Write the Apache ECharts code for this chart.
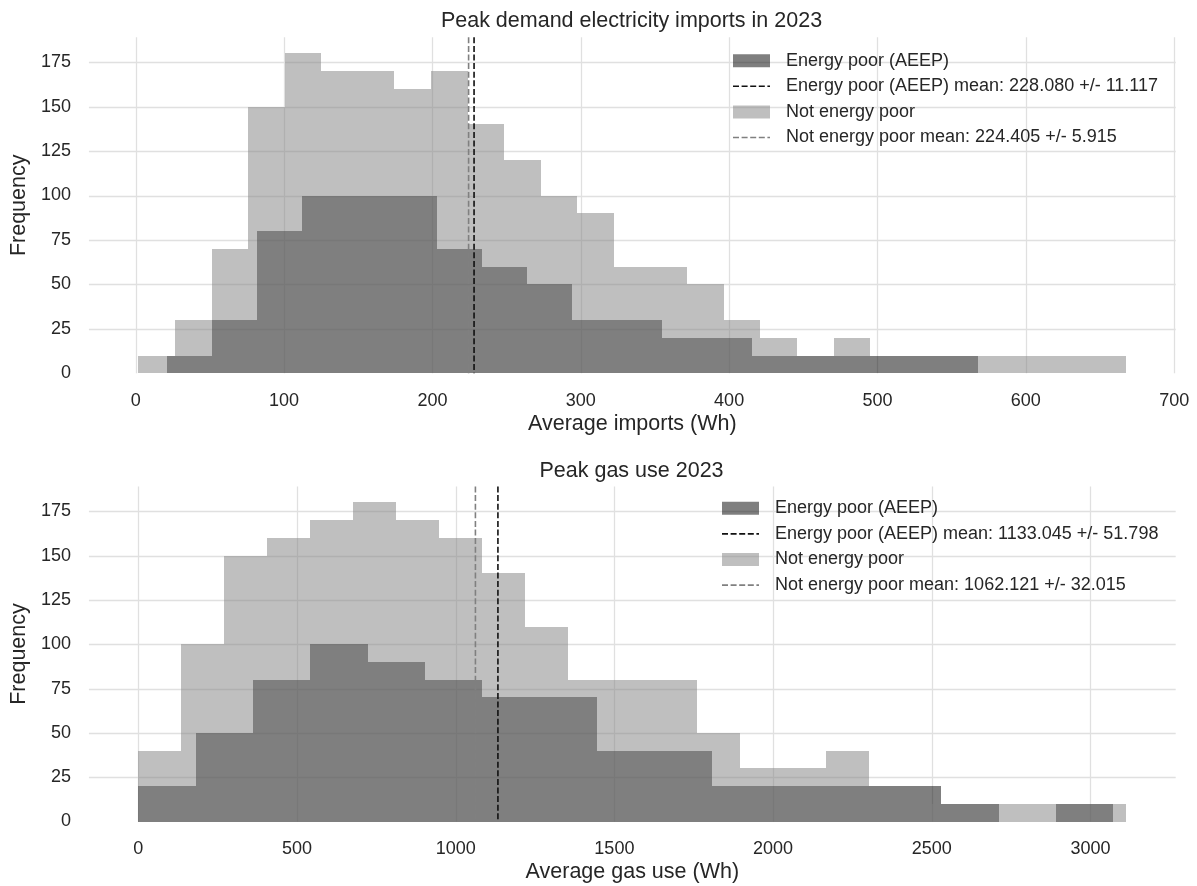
<!DOCTYPE html>
<html>
<head>
<meta charset="utf-8">
<title>Peak demand electricity imports and gas use 2023</title>
<script src="https://cdn.jsdelivr.net/npm/echarts@6/dist/echarts.min.js"></script>
<style>
  html, body { margin: 0; padding: 0; background: #ffffff; }
  #chart { width: 1197px; height: 886px; }
</style>
</head>
<body>
<div id="chart"></div>
<script>
// ---- Electricity imports (Wh): histogram ranges and bin counts ----
const elecPoorRange = [20.9, 567.6];
const elecPoorCounts = [10, 30, 80, 100, 100, 100, 70, 60, 50, 30, 30, 20, 20, 10, 10, 10, 10, 10];
const elecNotPoorRange = [1.8, 667.7];
const elecNotPoorCounts = [10, 30, 70, 150, 180, 170, 170, 160, 170, 140, 120, 100, 90, 60, 60, 50, 30, 20, 0, 20, 0, 10, 10, 10, 10, 10, 10];
const elecPoorMean = 228.080, elecPoorErr = 11.117;
const elecNotPoorMean = 224.405, elecNotPoorErr = 5.915;
const elecXLimits = [-31.5, 701];
const elecXTicks = [0, 100, 200, 300, 400, 500, 600, 700];

// ---- Gas use (Wh): histogram ranges and bin counts ----
const gasPoorRange = [0, 3072];
const gasPoorCounts = [20, 50, 80, 100, 90, 80, 70, 70, 40, 40, 20, 20, 20, 20, 10, 0, 10];
const gasNotPoorRange = [0, 3113];
const gasNotPoorCounts = [40, 100, 150, 160, 170, 180, 170, 160, 140, 110, 80, 80, 80, 50, 30, 30, 40, 10, 10, 10, 10, 10, 10];
const gasPoorMean = 1133.045, gasPoorErr = 51.798;
const gasNotPoorMean = 1062.121, gasNotPoorErr = 32.015;
const gasXLimits = [-155.65, 3268.65];
const gasXTicks = [0, 500, 1000, 1500, 2000, 2500, 3000];

// ---- Shared frequency axis ----
const freqMax = 189;
const freqTicks = [0, 25, 50, 75, 100, 125, 150, 175];

const FONT = "'Liberation Sans', Arial, Helvetica, sans-serif";
const TEXT = '#262626';
const GRID_LINE = '#e0e0e0';
const POOR_FILL = 'rgba(0, 0, 0, 0.5)';
const NOT_POOR_FILL = 'rgba(128, 128, 128, 0.5)';
const POOR_MEAN = '#111111';
const NOT_POOR_MEAN = '#808080';
const DASH = [6, 2.6];

// equal-width bin edges of a histogram over [lo, hi]
function binEdges(lo, hi, n) {
  const w = (hi - lo) / n;
  const e = [];
  for (let i = 0; i <= n; i++) e.push(lo + i * w);
  return e;
}

function histSeries(name, range, counts, fill, idx, z) {
  const edges = binEdges(range[0], range[1], counts.length);
  return {
    type: 'custom', name, xAxisIndex: idx, yAxisIndex: idx, z, silent: true,
    data: counts.map((c, i) => [edges[i], edges[i + 1], c]),
    encode: { x: [0, 1], y: 2 },
    renderItem(params, api) {
      const c = api.value(2);
      if (!c) return { type: 'group', children: [] };
      const a = api.coord([api.value(0), 0]);
      const b = api.coord([api.value(1), c]);
      const x0 = Math.round(a[0]), x1 = Math.round(b[0]);
      const y0 = Math.round(a[1]), y1 = Math.round(b[1]);
      return { type: 'rect', shape: { x: x0, y: y1, width: x1 - x0, height: y0 - y1 }, style: { fill } };
    }
  };
}

function meanSeries(value, color, idx) {
  return {
    type: 'custom', xAxisIndex: idx, yAxisIndex: idx, z: 5, silent: true,
    data: [[value, 0]],
    encode: { x: 0, y: 1 },
    renderItem(params, api) {
      const cs = params.coordSys;
      const x = api.coord([api.value(0), 0])[0];
      return {
        type: 'line',
        shape: { x1: x, y1: cs.y, x2: x, y2: cs.y + cs.height },
        style: { stroke: color, lineWidth: 1.6, lineDash: DASH }
      };
    }
  };
}

// light grid behind the bars (the zero line sits on the frame edge and is left out)
function gridSeries(xTicks, yTicks, idx) {
  const data = xTicks.map(v => [0, v]).concat(yTicks.filter(v => v > 0).map(v => [1, v]));
  return {
    type: 'custom', xAxisIndex: idx, yAxisIndex: idx, z: 0, silent: true,
    data,
    encode: {},
    renderItem(params, api) {
      const cs = params.coordSys;
      const kind = api.value(0), v = api.value(1);
      if (kind === 0) {
        const x = Math.round(api.coord([v, 0])[0]) + 0.5;
        return { type: 'line', shape: { x1: x, y1: cs.y, x2: x, y2: cs.y + cs.height }, style: { stroke: GRID_LINE, lineWidth: 1.3 } };
      }
      const y = Math.round(api.coord([0, v])[1]) + 0.5;
      return { type: 'line', shape: { x1: cs.x, y1: y, x2: cs.x + cs.width, y2: y }, style: { stroke: GRID_LINE, lineWidth: 1.3 } };
    }
  };
}

function xAxis(idx, limits, ticks, title) {
  return {
    gridIndex: idx, type: 'value', min: limits[0], max: limits[1],
    axisLine: { show: false }, axisTick: { show: false }, splitLine: { show: false },
    axisLabel: { customValues: ticks, formatter: v => String(v), fontSize: 18, color: TEXT, fontFamily: FONT, margin: 19 },
    name: title, nameLocation: 'middle', nameGap: 40,
    nameTextStyle: { fontSize: 21.5, color: TEXT, fontFamily: FONT }
  };
}

function yAxis(idx) {
  return {
    gridIndex: idx, type: 'value', min: 0, max: freqMax,
    axisLine: { show: false }, axisTick: { show: false }, splitLine: { show: false },
    axisLabel: { customValues: freqTicks, formatter: v => String(v), fontSize: 18, color: TEXT, fontFamily: FONT, margin: 18 },
    name: 'Frequency', nameLocation: 'middle', nameGap: 55,
    nameTextStyle: { fontSize: 21.5, color: TEXT, fontFamily: FONT }
  };
}

function fmt(m, e) { return m.toFixed(3) + ' +/- ' + e.toFixed(3); }

function legend(x, y, rows) {
  const children = [];
  rows.forEach((r, i) => {
    const cy = y + i * 25.6;
    if (r.kind === 'patch') {
      children.push({ type: 'rect', z: 100, shape: { x: x, y: cy - 6.5, width: 37, height: 13 }, style: { fill: r.color } });
    } else {
      children.push({ type: 'line', z: 100, shape: { x1: x, y1: cy, x2: x + 37, y2: cy }, style: { stroke: r.color, lineWidth: 1.6, lineDash: DASH } });
    }
    children.push({ type: 'text', z: 100, x: x + 53, y: cy, style: { text: r.text, fill: TEXT, font: '18px ' + FONT, textVerticalAlign: 'middle' } });
  });
  return { type: 'group', z: 100, silent: true, children };
}

const chart = echarts.init(document.getElementById('chart'), null, { renderer: 'canvas' });

chart.setOption({
  backgroundColor: '#ffffff',
  animation: false,
  grid: [
    { left: 88.3, right: 21.3, top: 37.3, height: 336 },
    { left: 88.3, right: 21.3, top: 486.5, height: 335 }
  ],
  xAxis: [
    xAxis(0, elecXLimits, elecXTicks, 'Average imports (Wh)'),
    xAxis(1, gasXLimits, gasXTicks, 'Average gas use (Wh)')
  ],
  yAxis: [yAxis(0), yAxis(1)],
  series: [
    gridSeries(elecXTicks, freqTicks, 0),
    histSeries('Energy poor (AEEP)', elecPoorRange, elecPoorCounts, POOR_FILL, 0, 2),
    histSeries('Not energy poor', elecNotPoorRange, elecNotPoorCounts, NOT_POOR_FILL, 0, 3),
    meanSeries(elecPoorMean, POOR_MEAN, 0),
    meanSeries(elecNotPoorMean, NOT_POOR_MEAN, 0),

    gridSeries(gasXTicks, freqTicks, 1),
    histSeries('Energy poor (AEEP)', gasPoorRange, gasPoorCounts, POOR_FILL, 1, 2),
    histSeries('Not energy poor', gasNotPoorRange, gasNotPoorCounts, NOT_POOR_FILL, 1, 3),
    meanSeries(gasPoorMean, POOR_MEAN, 1),
    meanSeries(gasNotPoorMean, NOT_POOR_MEAN, 1)
  ],
  graphic: [
    { type: 'text', z: 100, x: 631.5, y: 21, silent: true,
      style: { text: 'Peak demand electricity imports in 2023', fill: TEXT, font: '21.5px ' + FONT, textAlign: 'center', textVerticalAlign: 'middle' } },
    { type: 'text', z: 100, x: 631.5, y: 471, silent: true,
      style: { text: 'Peak gas use 2023', fill: TEXT, font: '21.5px ' + FONT, textAlign: 'center', textVerticalAlign: 'middle' } },
    legend(733, 60.7, [
      { kind: 'patch', color: POOR_FILL, text: 'Energy poor (AEEP)' },
      { kind: 'line', color: POOR_MEAN, text: 'Energy poor (AEEP) mean: ' + fmt(elecPoorMean, elecPoorErr) },
      { kind: 'patch', color: NOT_POOR_FILL, text: 'Not energy poor' },
      { kind: 'line', color: NOT_POOR_MEAN, text: 'Not energy poor mean: ' + fmt(elecNotPoorMean, elecNotPoorErr) }
    ]),
    legend(722, 508.3, [
      { kind: 'patch', color: POOR_FILL, text: 'Energy poor (AEEP)' },
      { kind: 'line', color: POOR_MEAN, text: 'Energy poor (AEEP) mean: ' + fmt(gasPoorMean, gasPoorErr) },
      { kind: 'patch', color: NOT_POOR_FILL, text: 'Not energy poor' },
      { kind: 'line', color: NOT_POOR_MEAN, text: 'Not energy poor mean: ' + fmt(gasNotPoorMean, gasNotPoorErr) }
    ])
  ]
});
</script>
</body>
</html>
